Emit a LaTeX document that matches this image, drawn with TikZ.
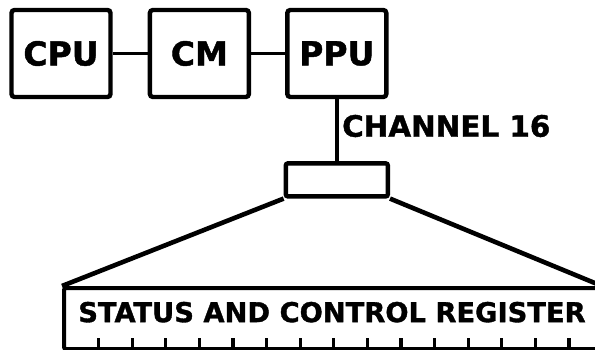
\documentclass[tikz,border=0pt]{standalone}
\usepackage{fontspec}
\setmainfont{DejaVu Sans}[BoldFeatures={FakeBold=1.3}]
\usetikzlibrary{positioning}

\begin{document}
\begin{tikzpicture}[
    x=1pt, y=-1pt,
    unit/.style={draw, line width=4.4pt, rounded corners=3pt, align=center,
                 font=\bfseries\fontsize{33}{36}\selectfont,
                 minimum width=99pt, minimum height=87pt, inner sep=0pt},
    port/.style={draw, line width=4.4pt, rounded corners=2pt,
                 minimum width=102pt, minimum height=33pt, inner sep=0pt},
    reg/.style={draw, line width=4pt, rounded corners=2pt,
                font=\bfseries\fontsize{27.3}{30}\selectfont,
                minimum width=536pt, minimum height=61pt, inner sep=0pt,
                text depth=13pt},
    lbl/.style={font=\bfseries\fontsize{29.4}{32}\selectfont, inner sep=0pt},
    wire/.style={line width=3.6pt},
    fan/.style={line width=4.6pt},
    tick/.style={line width=3.2pt}
  ]
  \useasboundingbox (0,0) rectangle (595,350);
  \clip (0,0) rectangle (595,350);

  \node[unit] (cpu) at (61,53.5) {CPU};
  \node[unit, right=35pt of cpu] (cm) {CM};
  \node[unit, right=34pt of cm] (ppu) {PPU};

  \draw[wire] (cpu) -- (cm);
  \draw[wire] (cm) -- (ppu);

  \node[port, below=62pt of ppu] (chan) {};
  \node[lbl, anchor=west] (chlbl) at (342,126) {CHANNEL 16};
  \draw[wire] (ppu) -- (chan);

  \node[reg, anchor=north west] (status) at (62,286) {STATUS AND CONTROL REGISTER};

  \draw[fan] (chan.south west) -- (status.north west);
  \draw[fan] (chan.south east) -- (status.north east);

  % bit positions along the bottom edge
  \foreach \k in {0,...,14}
    \draw[tick] ([xshift={36.5pt+33.6pt*\k}]status.south west) -- ++(0,-13);
\end{tikzpicture}
\end{document}
